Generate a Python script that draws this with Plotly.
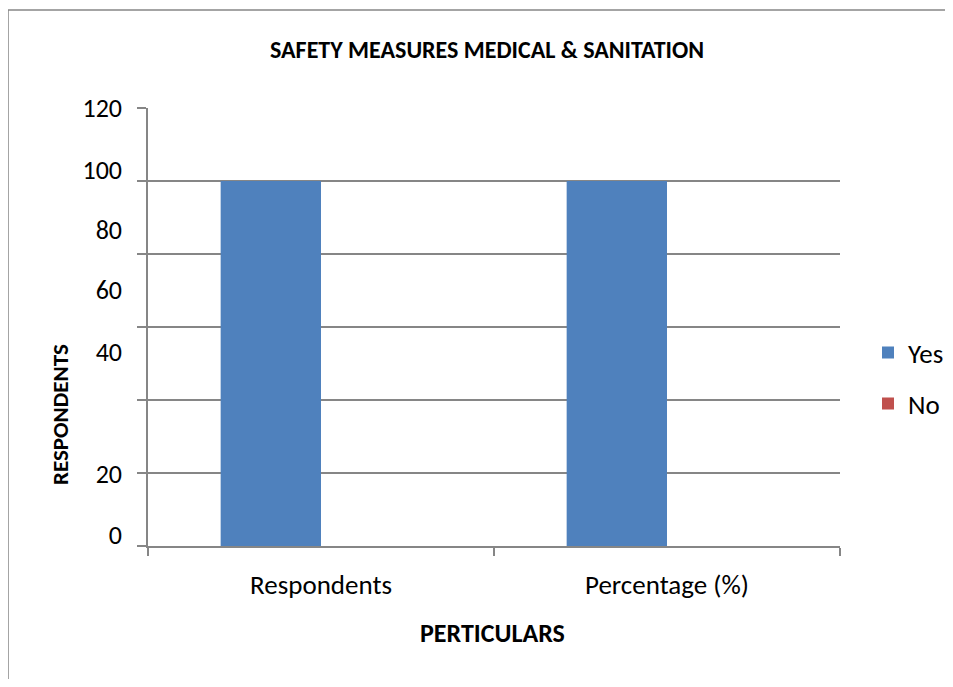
import plotly.graph_objects as go

categories = ["Respondents", "Percentage (%)"]
yes_values = [100, 100]
no_values = [0, 0]
grid_ticks = [0, 20, 40, 60, 80, 100, 120]
label_positions = [3, 19.7, 53.2, 70.1, 86.6, 103, 120]
label_texts = ["0", "20", "40", "60", "80", "100", "120"]

FONT = "Carlito, Liberation Sans, Arial, sans-serif"
GRAY = "#868686"

# figure coordinates (page body adds 8px offset)
W, H = 945, 671
L, T, PW, PH = 140, 100, 692, 438


def px(x):
    return (x - L) / PW


def py(y):
    return (T + PH - y) / PH


fig = go.Figure()
fig.add_trace(go.Bar(x=categories, y=yes_values, name="Yes", marker_color="#4F81BD",
                     marker_line_width=0, legend="legend"))
fig.add_trace(go.Bar(x=categories, y=no_values, name="No", marker_color="#C0504D",
                     marker_line_width=0, legend="legend2"))
fig.add_trace(go.Scatter(x=categories, y=[None, None], yaxis="y2", showlegend=False,
                         hoverinfo="skip"))

fig.update_layout(
    width=W, height=H,
    margin=dict(l=L, r=W - L - PW, t=T, b=H - T - PH, autoexpand=False),
    paper_bgcolor="white", plot_bgcolor="white",
    barmode="group", bargap=0.42, bargroupgap=0,
    font=dict(family=FONT, color="black"),
    title=dict(text="<b>SAFETY MEASURES MEDICAL &amp; SANITATION</b>",
               x=479 / W, xanchor="center", y=1 - 42 / H, yanchor="middle",
               font=dict(size=24, family=FONT)),
    xaxis=dict(showline=True, linecolor=GRAY, linewidth=1.5,
               ticks="outside", tickson="boundaries", ticklen=8, tickcolor=GRAY, tickwidth=1.5,
               tickfont=dict(size=27), ticklabelstandoff=14,
               showgrid=False),
    yaxis=dict(range=[0, 120], tickvals=grid_ticks, showticklabels=False,
               showline=True, linecolor=GRAY, linewidth=1.5,
               ticks="outside", ticklen=9, tickcolor=GRAY, tickwidth=1.5,
               showgrid=True, gridcolor=GRAY, gridwidth=1.8, zeroline=False),
    yaxis2=dict(range=[0, 120], overlaying="y", side="left", tickvals=label_positions,
                ticktext=label_texts, showgrid=False, zeroline=False, showline=False,
                ticks="", tickfont=dict(size=26), ticklabelstandoff=25),
    legend=dict(xref="container", yref="container", x=860 / W, xanchor="left",
                y=1 - 345 / H, yanchor="middle",
                font=dict(size=27), bgcolor="rgba(0,0,0,0)", itemwidth=30),
    legend2=dict(xref="container", yref="container", x=860 / W, xanchor="left",
                 y=1 - 396 / H, yanchor="middle",
                 font=dict(size=27), bgcolor="rgba(0,0,0,0)", itemwidth=30),
    annotations=[
        dict(text="<b>RESPONDENTS</b>", textangle=-90, xref="paper", yref="paper",
             x=px(52), y=py(407), xanchor="center", yanchor="middle",
             showarrow=False, font=dict(size=23, family=FONT)),
        dict(text="<b>PERTICULARS</b>", xref="paper", yref="paper",
             x=px(484), y=py(625), xanchor="center", yanchor="middle",
             showarrow=False, font=dict(size=26, family=FONT)),
    ],
    shapes=[
        dict(type="rect", xref="paper", yref="paper",
             x0=px(0), x1=px(1100), y0=py(900), y1=py(2),
             line=dict(color=GRAY, width=1.5), fillcolor="rgba(0,0,0,0)", layer="below"),
    ],
)

fig.write_html("out.html")
